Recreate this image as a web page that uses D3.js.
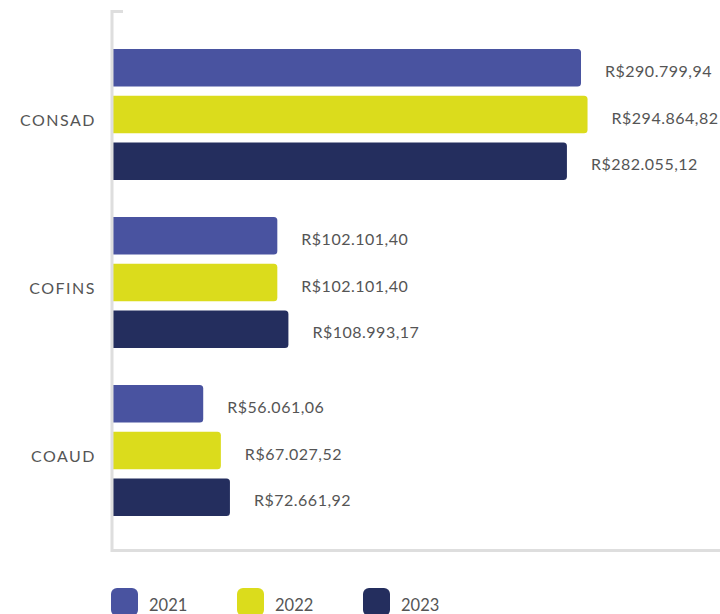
<!DOCTYPE html>
<html><head><meta charset="utf-8">
<script src="https://cdn.jsdelivr.net/npm/d3@7"></script>
<style>body{margin:0;background:#fff}svg{display:block}text{font-family:Lato,"Open Sans",sans-serif}</style>
</head><body><svg id="c" width="720" height="614"></svg>
<script>
const categories = ["CONSAD", "COFINS", "COAUD"];
const years = ["2021", "2022", "2023"];
const values2021 = [290799.94, 102101.40, 56061.06];
const values2022 = [294864.82, 102101.40, 67027.52];
const values2023 = [282055.12, 108993.17, 72661.92];
const labels2021 = ["R$290.799,94", "R$102.101,40", "R$56.061,06"];
const labels2022 = ["R$294.864,82", "R$102.101,40", "R$67.027,52"];
const labels2023 = ["R$282.055,12", "R$108.993,17", "R$72.661,92"];
const colors = ["#4953a0", "#dbdc1c", "#242e5e"];

const series = [values2021, values2022, values2023];
const seriesLabels = [labels2021, labels2022, labels2023];
const FONT = "Lato, 'Open Sans', sans-serif";

const svg = d3.select("#c");
const x0 = 113;
const x = d3.scaleLinear().domain([0, 290799.94]).range([x0, 581]);
const y = d3.scaleBand().domain(categories).range([30.5, 534.5]).paddingInner(0).paddingOuter(0);
const yInner = d3.scaleBand().domain(years).range([-65.5, 65.5]).paddingInner(0.2);

const data = [];
categories.forEach((c, i) => years.forEach((yr, j) => data.push({c, yr, j, v: series[j][i], label: seriesLabels[j][i]})));

const g = svg.append("g");
g.selectAll("rect.bar").data(data).join("rect")
  .attr("class", "bar")
  .attr("x", x0 - 6)
  .attr("y", d => y(d.c) + y.bandwidth() / 2 + yInner(d.yr))
  .attr("width", d => x(d.v) - x0 + 6)
  .attr("height", yInner.bandwidth())
  .attr("rx", 3.5)
  .attr("fill", d => colors[d.j]);

g.selectAll("text.val").data(data).join("text")
  .attr("class", "val")
  .attr("x", d => x(d.v) + 24)
  .attr("y", d => y(d.c) + y.bandwidth() / 2 + yInner(d.yr) + yInner.bandwidth() / 2 + 3.5)
  .attr("dy", "0.35em")
  .attr("font-size", 16)
  .attr("letter-spacing", 0.5)
  .attr("fill", "#555")
  .text(d => d.label);

// cover left of axis
svg.append("rect").attr("x", 0).attr("y", 0).attr("width", 111).attr("height", 560).attr("fill", "#fff");

// axis frame
svg.append("path")
  .attr("d", "M123,11.5 H112 V550.5 H720")
  .attr("fill", "none").attr("stroke", "#dedede").attr("stroke-width", 3);

const yAxis = d3.axisLeft(y).tickSize(0).tickPadding(16);
const ga = svg.append("g").attr("transform", `translate(${x0 - 1},6)`).call(yAxis);
ga.select(".domain").remove();
ga.selectAll("text").attr("font-size", 16).attr("letter-spacing", 1.5).attr("fill", "#555").attr("font-family", FONT);

// legend
const lx = d3.scalePoint().domain(years).range([111, 363]);
const lg = svg.append("g").selectAll("g").data(years).join("g")
  .attr("transform", d => `translate(${lx(d)},588)`);
lg.append("rect").attr("width", 27).attr("height", 28).attr("rx", 6).attr("fill", (d, i) => colors[i]);
lg.append("text").attr("x", 38).attr("y", 23).attr("font-size", 16.5).attr("fill", "#555").attr("font-family", FONT).text(d => d);
</script></body></html>
